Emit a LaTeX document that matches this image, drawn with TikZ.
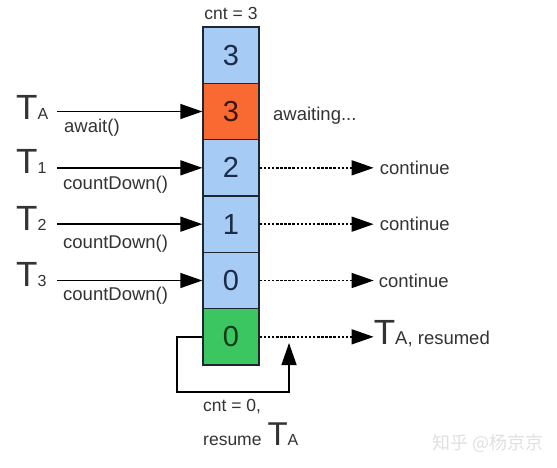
\documentclass[tikz,border=0pt]{standalone}
\usepackage{fontspec}
\setmainfont{Liberation Sans}
\newfontfamily\cjk{Noto Sans CJK SC}
\usetikzlibrary{arrows.meta}
\definecolor{cellblue}{HTML}{A6CBF4}
\definecolor{cellorange}{HTML}{F96A32}
\definecolor{cellgreen}{HTML}{3CC661}
\definecolor{numblue}{HTML}{1B2B48}
\definecolor{numorange}{HTML}{3A160C}
\definecolor{numgreen}{HTML}{0E3A18}
\definecolor{cellline}{HTML}{1E2630}
\definecolor{txtgray}{HTML}{333333}
\newcommand\Tlab[3]{{\fontsize{#1}{#1}\selectfont T}{\fontsize{#2}{#2}\selectfont #3}}
\begin{document}
\begin{tikzpicture}[x=1pt,y=-1pt,
  cell/.style={draw=cellline, line width=1.3pt, minimum width=56pt, minimum height=56.33pt, inner sep=0pt, font=\fontsize{29}{29}\selectfont},
  lbl/.style={font=\fontsize{17.5}{20}\selectfont, text=txtgray, inner sep=0pt},
  side/.style={font=\fontsize{18.5}{21}\selectfont, text=txtgray, inner sep=0pt},
  tl/.style={text=txtgray, inner sep=0pt},
  arr/.style={line width=1.4pt, -{Triangle[length=22pt,width=15pt]}},
  dotarr/.style={arr, dash pattern=on 2.5pt off 1.6pt},
]
\useasboundingbox (0,0) rectangle (557,467);

% cells
\node[cell, fill=cellblue, text=numblue] (c1) at (231,55.17) {3};
\node[cell, fill=cellorange, text=numorange] (c2) at (231,111.5) {3};
\node[cell, fill=cellblue, text=numblue] (c3) at (231,167.83) {2};
\node[cell, fill=cellblue, text=numblue] (c4) at (231,224.17) {1};
\node[cell, fill=cellblue, text=numblue] (c5) at (231,280.5) {0};
\node[cell, fill=cellgreen, text=numgreen] (c6) at (231,336.83) {0};

\node[lbl, anchor=base] (cnt3) at (231,19) {cnt = 3};

% thread labels
\node[tl, anchor=base west] (tA) at (16,119) {\Tlab{35}{16}{A}};
\node[tl, anchor=base west] (t1) at (16,173) {\Tlab{35}{16}{1}};
\node[tl, anchor=base west] (t2) at (16,230) {\Tlab{35}{16}{2}};
\node[tl, anchor=base west] (t3) at (16,286) {\Tlab{35}{16}{3}};

\coordinate (sA) at (57,111.5);
\coordinate (s1) at (57,167.83);
\coordinate (s2) at (57,224.17);
\coordinate (s3) at (57,280.5);
\draw[arr] (sA) -- (c2.west);
\draw[arr] (s1) -- (c3.west);
\draw[arr] (s2) -- (c4.west);
\draw[arr] (s3) -- (c5.west);

\node[side, anchor=base west] (mA) at (64,132) {await()};
\node[side, anchor=base west] (m1) at (63,189) {countDown()};
\node[side, anchor=base west] (m2) at (63,248) {countDown()};
\node[side, anchor=base west] (m3) at (63,300) {countDown()};

\node[side, anchor=base west] (aw) at (273,120) {awaiting...};

% right dotted arrows
\path (c3.east) ++(114,0) coordinate (e3);
\path (c4.east) ++(114,0) coordinate (e4);
\path (c5.east) ++(114,0) coordinate (e5);
\path (c6.east) ++(114,0) coordinate (e6);
\draw[dotarr] (c3.east) -- (e3);
\draw[dotarr] (c4.east) -- (e4);
\draw[dotarr] (c5.east) -- (e5);
\draw[dotarr] (c6.east) -- (e6);
\node[side, anchor=west, xshift=6pt] (k3) at (e3) {continue};
\node[side, anchor=west, xshift=6pt] (k4) at (e4) {continue};
\node[side, anchor=west, xshift=5pt] (k5) at (e5) {continue};
\node[tl, anchor=base west, yshift=-8pt] (res) at (e6) {\Tlab{35}{18.5}{A, resumed}};

% loop back
\coordinate (lc) at (177,392);
\coordinate (lp) at (289,343);
\draw[arr] (c6.west) -| (lc) -| (lp);

\node[lbl, anchor=base west] (cnt0) at (203,411) {cnt = 0,};
\node[lbl, anchor=base west] (rs) at (203,445) {resume\hspace{6pt}\Tlab{33}{16}{A}};

% watermark
\node[font=\cjk\fontsize{18}{18}\selectfont, text=black!12, inner sep=0pt] (wm) at (488,443) {知乎 @杨京京};
\end{tikzpicture}
\end{document}
